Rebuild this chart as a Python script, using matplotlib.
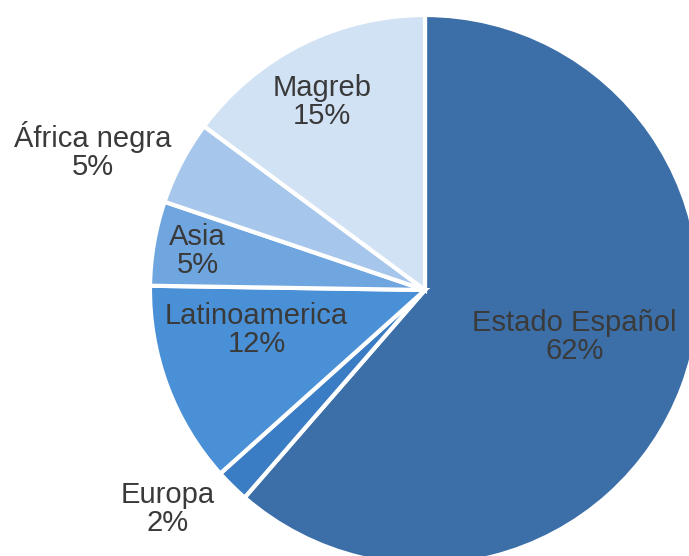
import numpy as np
import matplotlib.pyplot as plt

plt.rcParams['font.family'] = ['Liberation Sans', 'DejaVu Sans']

labels = ['Estado Español', 'Europa', 'Latinoamerica', 'Asia', 'África negra', 'Magreb']
values = [62, 2, 12, 5, 5, 15]
pct_labels = ['62%', '2%', '12%', '5%', '5%', '15%']
colors = ['#3c6fa8', '#3a7dc4', '#4a90d6', '#70a6df', '#a6c6ec', '#d2e2f5']
# label distance (in radii) and small angle tweak (deg) for each slice
lab_r = [0.57, 1.23, 0.63, 0.84, 1.31, 0.78]
lab_da = [3, -5, -7, 0, 5, 2]

fig = plt.figure(figsize=(6.89, 5.56), dpi=100)
ax = fig.add_axes([0, 0, 1, 1])

cx, cy, r = 425, 266, 275
wedges, _ = ax.pie(values, colors=colors, startangle=90, counterclock=False,
                   center=(cx, cy), radius=r,
                   wedgeprops=dict(edgecolor='white', linewidth=3))

for w, lab, pct, f, da in zip(wedges, labels, pct_labels, lab_r, lab_da):
    mid = np.deg2rad((w.theta1 + w.theta2) / 2 + da)
    x = cx + f * r * np.cos(mid)
    y = cy + f * r * np.sin(mid)
    ax.text(x, y, lab + '\n' + pct, ha='center', va='center', fontsize=21,
            color='#3a3a3a', linespacing=1.0)

ax.set_xlim(0, 689)
ax.set_ylim(0, 556)
ax.set_aspect('equal')
ax.axis('off')

plt.savefig('out.png', dpi=100)
